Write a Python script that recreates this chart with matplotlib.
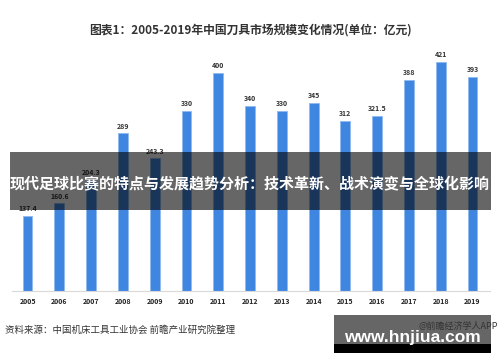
import matplotlib
matplotlib.use("Agg")
import matplotlib.pyplot as plt
import matplotlib.patches as patches

plt.rcParams['font.family'] = ['Noto Sans CJK SC', 'DejaVu Sans']

# 数据
years = ['2005', '2006', '2007', '2008', '2009', '2010', '2011', '2012',
         '2013', '2014', '2015', '2016', '2017', '2018', '2019']
values = [137.4, 160.6, 204.3, 289, 243.3, 330, 400, 340,
          330, 345, 312, 321.5, 388, 421, 393]
labels = ['137.4', '160.6', '204.3', '289', '243.3', '330', '400', '340',
          '330', '345', '312', '321.5', '388', '421', '393']

title = '图表1：2005-2019年中国刀具市场规模变化情况(单位：亿元)'
banner = '现代足球比赛的特点与发展趋势分析：技术革新、战术演变与全球化影响'
source = '资料来源：中国机床工具工业协会 前瞻产业研究院整理'

W, H = 500, 362
fig = plt.figure(figsize=(W / 100, H / 100), dpi=100)
fig.patch.set_facecolor('white')

# 坐标轴位置（像素换算）
ax = fig.add_axes([12 / W, (H - 290.7) / H, (490 - 12) / W, (290.7 - 40) / H])
x = list(range(len(years)))
ax.bar(x, values, width=0.31, color='#3f86e0', edgecolor='#8fbaf0',
       linewidth=0.6, zorder=2)
for xi, v, lab in zip(x, values, labels):
    ax.text(xi, v + 7, lab, ha='center', va='bottom', fontsize=5,
            fontweight='bold', color='#333333')

ax.set_xlim(-0.49, 14.55)
ax.set_ylim(0, 460.8)
ax.set_xticks(x)
ax.set_xticklabels(years, fontsize=5, fontweight='bold', color='#222222')
ax.tick_params(axis='x', length=0, pad=5)
ax.set_yticks([])
for s in ['top', 'right', 'left']:
    ax.spines[s].set_visible(False)
ax.spines['bottom'].set_color('#d9d9d9')
ax.spines['bottom'].set_linewidth(0.8)
ax.patch.set_alpha(0)

# 标题
fig.text(250 / W, 1 - 30 / H, title, ha='center', va='center',
         fontsize=8.5, fontweight='bold', color='#333333')

# 半透明横幅
fig.patches.append(patches.Rectangle((10 / W, 1 - 210 / H), 481 / W, 58 / H,
                                     transform=fig.transFigure, facecolor='black',
                                     alpha=0.6, edgecolor='none', zorder=5))
fig.text(250 / W, 1 - 184 / H, banner, ha='center', va='center',
         fontsize=10.8, fontweight='bold', color='white', zorder=6)

# 来源
fig.text(5 / W, 1 - 330 / H, source, ha='left', va='center',
         fontsize=6.8, color='#333333')

# 右下角网址框
fig.patches.append(patches.Rectangle((334 / W, 1 - 344 / H), 157 / W, 29 / H,
                                     transform=fig.transFigure, facecolor='#666666',
                                     edgecolor='none', zorder=5))
fig.patches.append(patches.Rectangle((334 / W, 1 - 352.7 / H), 157 / W, 8.7 / H,
                                     transform=fig.transFigure, facecolor='black',
                                     edgecolor='none', zorder=5))
fig.text(498 / W, 1 - 326 / H, '@前瞻经济学人APP', ha='right', va='center',
         fontsize=6.5, color='#333333', zorder=6)
fig.text(412 / W, 1 - 337.5 / H, 'www.hnjiua.com', ha='center', va='center',
         fontsize=12.5, fontweight='bold', color='white',
         family=['Liberation Sans', 'DejaVu Sans'], zorder=7)

fig.savefig('out.png', dpi=100)
